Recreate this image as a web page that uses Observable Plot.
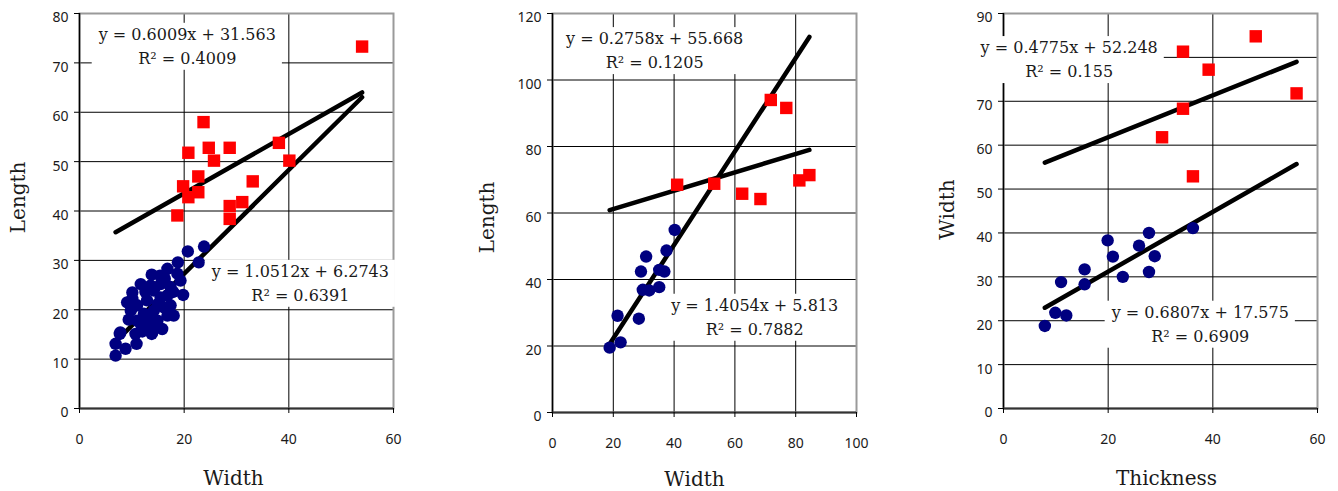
<!DOCTYPE html>
<html><head><meta charset="utf-8">
<script src="https://cdn.jsdelivr.net/npm/d3@7"></script>
<script src="https://cdn.jsdelivr.net/npm/@observablehq/plot@0.6"></script>
<style>
html,body{margin:0;padding:0;background:#fff;}
#wrap{position:relative;width:1338px;height:491px;overflow:hidden;background:#fff;}
#wrap svg{position:absolute;top:0;}
</style>
</head><body><div id="wrap"></div>
<script>
// ---------- Panel 1: Length vs Width ----------
const p1Circles = [
  [20.7,31.8],[23.8,32.8],[22.8,29.6],[18.8,29.6],[19.8,23.0],[19.3,25.9],[16.8,28.3],[15.4,26.9],
  [13.8,27.1],[11.7,25.2],[13.6,24.9],[10.1,22.2],[9.8,19.8],[9.4,18.0],[7.8,15.4],[6.9,13.1],
  [6.9,10.7],[8.8,12.1],[10.9,13.1],[10.7,15.1],[13.9,15.4],[15.8,16.1],[18.0,18.8],[17.4,20.9],
  [16.8,22.9],[17.4,24.6],[18.7,27.3],[12.9,21.9],[14.2,19.8],[12.3,19.2],[14.9,17.8],[11.7,17.1],
  [13.3,17.1],[16.1,20.5],[15.5,22.5],[14.2,23.9],[11.0,20.9],[10.1,23.5],[15.5,25.2],[11.0,17.8],
  [16.8,18.8],[9.1,21.5],[13.8,15.1],[7.7,15.1],[12.6,23.6],[15.0,21.2],[13.0,18.4],[17.9,23.6],
  [16.3,26.3],[14.6,16.5],[10.2,20.6],[12.0,15.6]
];
const p1Squares = [
  [54,73.3],[23.7,58],[20.8,51.8],[24.7,52.8],[28.7,52.8],[25.7,50.2],[38.1,53.8],[40.1,50.2],
  [22.7,47],[19.8,45],[33.1,46],[20.8,42.8],[22.7,43.8],[31.1,41.8],[28.7,41],[28.7,38.4],[18.7,39.1]
];
const p1Slopes = [0.6009, 1.0512];
const p1Intercepts = [31.563, 6.2743];
const p1Labels = ["y = 0.6009x + 31.563\nR² = 0.4009", "y = 1.0512x + 6.2743\nR² = 0.6391"];
const p1LabelPos = [[20.6, 73.8], [42.2, 25.8]];
const p1XTicks = [0, 20, 40, 60];
const p1YTicks = [0, 10, 20, 30, 40, 50, 60, 70, 80];
const p1YTickLabels = [0, 10, 20, 30, 40, 50, 60, 70, 80];

// ---------- Panel 2: Length vs Width ----------
const p2Circles = [
  [18.8,19.5],[22.4,21.1],[21.4,29.1],[28.4,28.2],[29.1,42.4],[30.8,46.9],[29.7,36.9],[31.8,36.7],
  [35.1,37.7],[35.1,42.9],[36.8,42.4],[37.5,48.7],[40.2,54.9]
];
const p2Squares = [
  [71.8,94],[76.9,91.6],[41,68.5],[53.2,68.8],[62.4,65.8],[68.4,64.2],[81.2,69.8],[84.5,71.4]
];
const p2Slopes = [0.2758, 1.4054];
// the drawn lower line sits at -5.813, although its label reads "+ 5.813"
const p2Intercepts = [55.668, -5.813];
const p2Labels = ["y = 0.2758x + 55.668\nR² = 0.1205", "y = 1.4054x + 5.813\nR² = 0.7882"];
const p2LabelPos = [[33.6, 109.5], [66.5, 29.3]];
const p2XTicks = [0, 20, 40, 60, 80, 100];
const p2YTicks = [0, 20, 40, 60, 80, 100, 120];
const p2YTickLabels = [0, 20, 40, 60, 80, 100, 120];

// ---------- Panel 3: Width vs Thickness ----------
const p3Circles = [
  [7.9,18.8],[9.9,21.8],[12.0,21.2],[11.0,28.8],[15.5,31.7],[15.5,28.3],[19.9,38.3],[20.9,34.6],
  [22.8,30.0],[25.9,37.1],[27.8,40.0],[28.9,34.7],[27.8,31.1],[36.2,41.1]
];
const p3Squares = [
  [48.2,84.8],[34.3,81.3],[39.2,77.2],[56,71.8],[34.3,68.3],[30.3,61.8],[36.2,52.9]
];
const p3Slopes = [0.4775, 0.6807];
const p3Intercepts = [52.248, 17.575];
const p3Labels = ["y = 0.4775x + 52.248\nR² = 0.155", "y = 0.6807x + 17.575\nR² = 0.6909"];
const p3LabelPos = [[12.55, 80.0], [37.6, 19.7]];
const p3XTicks = [0, 20, 40, 60];
const p3YTicks = [0, 10, 20, 30, 40, 50, 60, 70, 80, 90];
// the "80" label is hidden behind the equation box in the original
const p3YTickLabels = [0, 10, 20, 30, 40, 50, 60, 70, 90];

const axisTitles = [["Width", "Length"], ["Width", "Length"], ["Thickness", "Width"]];

const panels = [
  {left: 0, width: 420, ml: 79, mr: 27, mb: 83, xd: [0, 60], yd: [0, 80],
   circles: p1Circles, squares: p1Squares, slopes: p1Slopes, intercepts: p1Intercepts,
   labels: p1Labels, labelPos: p1LabelPos, xt: p1XTicks, yt: p1YTicks, ytl: p1YTickLabels, titles: axisTitles[0],
   xtDx: -3, xtDy: 70.5, ytDx: -61, ytDy: -13.5},
  {left: 460, width: 420, ml: 92, mr: 24, mb: 79, xd: [0, 100], yd: [0, 120],
   circles: p2Circles, squares: p2Squares, slopes: p2Slopes, intercepts: p2Intercepts,
   labels: p2Labels, labelPos: p2LabelPos, xt: p2XTicks, yt: p2YTicks, ytl: p2YTickLabels, titles: axisTitles[1],
   xtDx: -10, xtDy: 67.5, ytDx: -65, ytDy: 4.5},
  {left: 920, width: 418, ml: 83, mr: 21, mb: 83, xd: [0, 60], yd: [0, 90],
   circles: p3Circles, squares: p3Squares, slopes: p3Slopes, intercepts: p3Intercepts,
   labels: p3Labels, labelPos: p3LabelPos, xt: p3XTicks, yt: p3YTicks, ytl: p3YTickLabels, titles: axisTitles[2],
   xtDx: 6, xtDy: 70.5, ytDx: -56, ytDy: -1.5}
];

const wrap = document.getElementById("wrap");
const serif = "DejaVu Serif";

panels.forEach(p => {
  const allX = p.circles.map(d => d[0]).concat(p.squares.map(d => d[0]));
  const ext = d3.extent(allX);
  const trend = p.slopes.flatMap((m, i) => ext.map(x => ({x, y: m * x + p.intercepts[i], k: i})));
  const labels = p.labels.map((t, i) => ({text: t, x: p.labelPos[i][0], y: p.labelPos[i][1]}));

  const svg = Plot.plot({
    width: p.width, height: 491,
    marginLeft: p.ml, marginRight: p.mr, marginTop: 13, marginBottom: p.mb,
    x: {domain: p.xd},
    y: {domain: p.yd},
    style: {fontFamily: "Noto Sans", fontSize: "14px", color: "#1a1a1a", background: "white", overflow: "visible"},
    marks: [
      Plot.gridX(p.xt, {stroke: "#000", strokeOpacity: 1, strokeWidth: 1}),
      Plot.gridY(p.yt, {stroke: "#000", strokeOpacity: 1, strokeWidth: 1}),
      Plot.frame({stroke: "#9a9a9a", strokeWidth: 2}),
      Plot.ruleX([p.xd[0]], {stroke: "#000", strokeWidth: 1.5}),
      Plot.ruleY([p.yd[0]], {stroke: "#333", strokeWidth: 2}),
      Plot.axisX({ticks: p.xt, tickSize: 5, tickPadding: 21, label: null, fontSize: 14, stroke: "#000"}),
      Plot.axisY({ticks: p.yt, tickSize: 5, tickFormat: () => "", label: null, stroke: "#000"}),
      Plot.axisY({ticks: p.ytl, tickSize: 0, tickPadding: 11, dy: 4.5, label: null, fontSize: 14}),
      Plot.line(trend, {x: "x", y: "y", z: "k", stroke: "#000", strokeWidth: 4.5}),
      Plot.dot(p.circles, {x: d => d[0], y: d => d[1], r: 6.2, fill: "#000080"}),
      Plot.dot(p.squares, {x: d => d[0], y: d => d[1], r: 7, symbol: "square", fill: "#ff0000"}),
      Plot.text(labels, {x: "x", y: "y", text: "text", fontFamily: serif,
        fontSize: 16, lineHeight: 1.5, fill: "#1a1a1a"}),
      Plot.text([p.titles[0]], {text: d => d, frameAnchor: "bottom", lineAnchor: "middle", textAnchor: "middle",
        dx: p.xtDx, dy: p.xtDy, fontFamily: serif, fontSize: 20, fill: "#1a1a1a"}),
      Plot.text([p.titles[1]], {text: d => d, frameAnchor: "left", lineAnchor: "middle", textAnchor: "middle",
        rotate: -90, dx: p.ytDx, dy: p.ytDy, fontFamily: serif, fontSize: 20, fill: "#1a1a1a"})
    ]
  });
  svg.style.left = p.left + "px";
  wrap.appendChild(svg);

  // white label boxes behind the equations, as in the original
  Array.from(svg.querySelectorAll("text"))
    .filter(t => t.textContent.includes("R²"))
    .forEach(t => {
      const bb = t.getBBox();
      const r = document.createElementNS("http://www.w3.org/2000/svg", "rect");
      r.setAttribute("x", bb.x - 6);
      r.setAttribute("y", bb.y - 2);
      r.setAttribute("width", bb.width + 12);
      r.setAttribute("height", bb.height + 4);
      r.setAttribute("fill", "white");
      r.setAttribute("stroke", "none");
      const tr = t.getAttribute("transform");
      if (tr) r.setAttribute("transform", tr);
      t.parentNode.insertBefore(r, t);
    });
});
</script>
</body></html>
